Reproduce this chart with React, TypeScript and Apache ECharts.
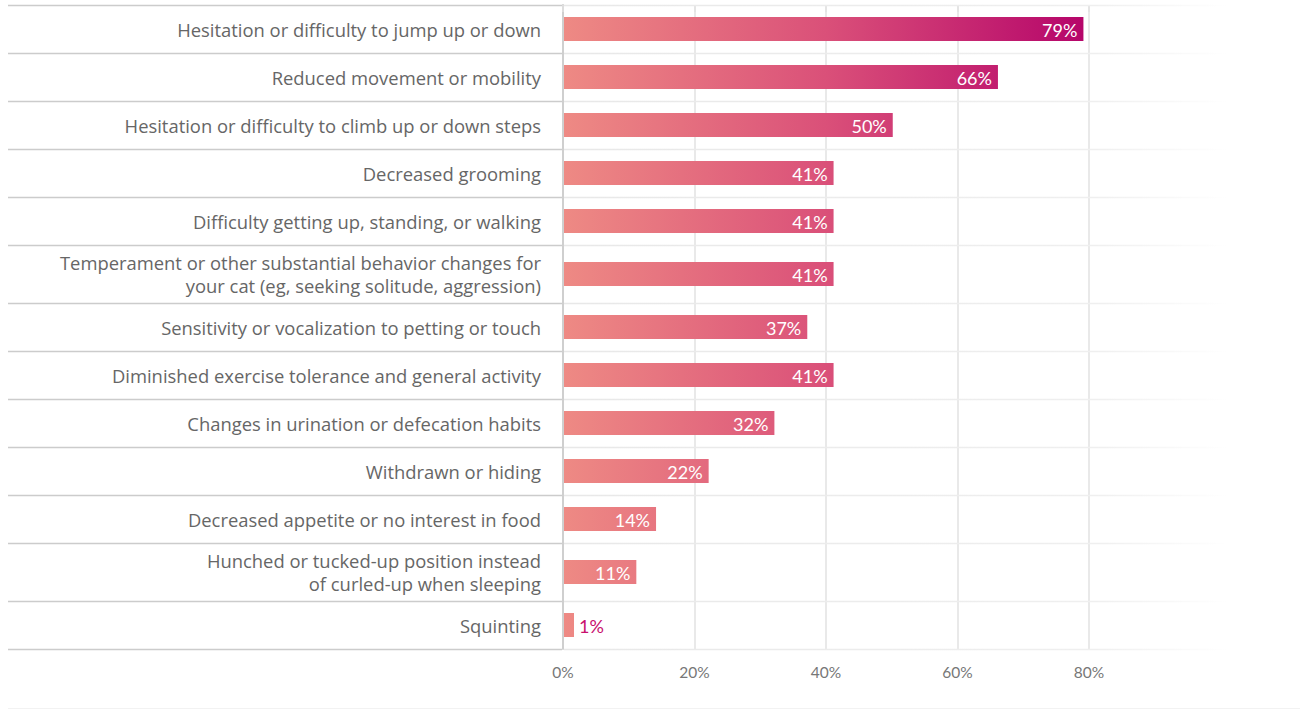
import React, { useEffect, useRef } from "react";
import * as echarts from "echarts";

const categories: string[] = [
  "Hesitation or difficulty to jump up or down",
  "Reduced movement or mobility",
  "Hesitation or difficulty to climb up or down steps",
  "Decreased grooming",
  "Difficulty getting up, standing, or walking",
  "Temperament or other substantial behavior changes for\nyour cat (eg, seeking solitude, aggression)",
  "Sensitivity or vocalization to petting or touch",
  "Diminished exercise tolerance and general activity",
  "Changes in urination or defecation habits",
  "Withdrawn or hiding",
  "Decreased appetite or no interest in food",
  "Hunched or tucked-up position instead\nof curled-up when sleeping",
  "Squinting",
];

const values: number[] = [79, 66, 50, 41, 41, 41, 37, 41, 32, 22, 14, 11, 1];

const xTicks: number[] = [0, 20, 40, 60, 80];

const LABEL_FONT = "'Open Sans', 'Noto Sans', sans-serif";
const NUM_FONT = "Lato, 'Open Sans', sans-serif";

export default function App() {
  const ref = useRef<HTMLDivElement>(null);

  useEffect(() => {
    if (!ref.current) return;
    const chart = echarts.init(ref.current, undefined, { renderer: "svg" });

    // row layout derived from number of label lines
    const rowH = categories.map((c) => 48 + 10 * (c.split("\n").length - 1));
    const bounds: number[] = [0];
    rowH.forEach((h) => bounds.push(bounds[bounds.length - 1] + h));
    const centers = rowH.map((h, i) => bounds[i] + h / 2);
    const total = bounds[bounds.length - 1];

    const labelByCenter: Record<string, string> = {};
    centers.forEach((c, i) => (labelByCenter[String(c)] = categories[i]));

    const option: any = {
      animation: false,
      backgroundColor: "#ffffff",
      grid: { left: 563, right: 211, top: 5, height: total, containLabel: false },
      xAxis: {
        type: "value",
        min: xTicks[0],
        max: xTicks[xTicks.length - 1],
        interval: 20,
        axisLine: { show: false },
        axisTick: { show: true, length: 7, lineStyle: { color: "#e2e2e2", width: 1.5 } },
        splitLine: { show: true, lineStyle: { color: "#e2e2e2", width: 1.5 } },
        axisLabel: {
          formatter: (v: number) => `${v}%`,
          color: "#777777",
          fontSize: 15.5,
          fontFamily: NUM_FONT,
          margin: 15,
        },
      },
      yAxis: {
        type: "value",
        inverse: true,
        min: 0,
        max: total,
        splitLine: { show: false },
        axisTick: { show: false },
        axisLine: { show: true, onZero: false, lineStyle: { color: "#cfcfcf", width: 2 } },
        axisLabel: {
          customValues: centers,
          formatter: (v: number) => labelByCenter[String(v)] ?? "",
          color: "#666666",
          fontSize: 18.4,
          lineHeight: 23,
          fontFamily: LABEL_FONT,
          margin: 22,
          align: "right",
        },
      },
      series: [
        {
          type: "custom",
          name: "separators",
          clip: false,
          z: 1,
          silent: true,
          data: bounds.map((b) => [0, b]),
          encode: { x: 0, y: 1 },
          renderItem: (params: any, api: any) => {
            const p = api.coord([0, api.value(1)]);
            const y = Math.round(p[1]) + 0.5;
            const x0 = p[0];
            return {
              type: "group",
              children: [
                {
                  type: "line",
                  shape: { x1: 8, y1: y, x2: x0 - 1, y2: y },
                  style: { stroke: "#cccccc", lineWidth: 1.5 },
                },
                {
                  type: "line",
                  shape: { x1: x0 + 1, y1: y, x2: x0 + 665, y2: y },
                  style: {
                    stroke: new echarts.graphic.LinearGradient(
                      x0,
                      0,
                      x0 + 665,
                      0,
                      [
                        { offset: 0, color: "#e8e8e8" },
                        { offset: 0.8, color: "#efefef" },
                        { offset: 1, color: "#ffffff" },
                      ],
                      true
                    ),
                    lineWidth: 1.5,
                  },
                },
              ],
            };
          },
        },
        {
          type: "custom",
          name: "bars",
          clip: false,
          z: 3,
          data: values.map((v, i) => [v, centers[i]]),
          encode: { x: 0, y: 1 },
          renderItem: (params: any, api: any) => {
            const v = api.value(0);
            const yc = api.value(1);
            const start = api.coord([0, yc]);
            const end = api.coord([v, yc]);
            const g0 = api.coord([0, 0])[0];
            const g1 = api.coord([80, 0])[0];
            const h = 24;
            const w = Math.max(end[0] - start[0], 10);
            const xEnd = start[0] + 1 + w;
            const inside = v >= 5;
            return {
              type: "group",
              children: [
                {
                  type: "rect",
                  shape: { x: start[0] + 1, y: start[1] - h / 2, width: w, height: h },
                  style: {
                    fill: new echarts.graphic.LinearGradient(
                      g0,
                      0,
                      g1,
                      0,
                      [
                        { offset: 0, color: "#ee8a84" },
                        { offset: 0.5, color: "#da5079" },
                        { offset: 1, color: "#b5046a" },
                      ],
                      true
                    ),
                  },
                },
                {
                  type: "text",
                  style: {
                    text: `${v}%`,
                    x: inside ? xEnd - 6 : xEnd + 5,
                    y: end[1] + 1,
                    align: inside ? "right" : "left",
                    verticalAlign: "middle",
                    fill: inside ? "#ffffff" : "#c8106e",
                    fontSize: 18,
                    fontFamily: NUM_FONT,
                  },
                },
              ],
            };
          },
        },
      ],
      graphic: [
        {
          type: "line",
          shape: { x1: 8, y1: 708.5, x2: 1300, y2: 708.5 },
          style: { stroke: "#f2f2f2", lineWidth: 1 },
          silent: true,
        },
      ],
    };

    chart.setOption(option);
    return () => chart.dispose();
  }, []);

  return (
    <div
      ref={ref}
      style={{ position: "fixed", left: 0, top: 0, width: 1300, height: 710 }}
    />
  );
}
